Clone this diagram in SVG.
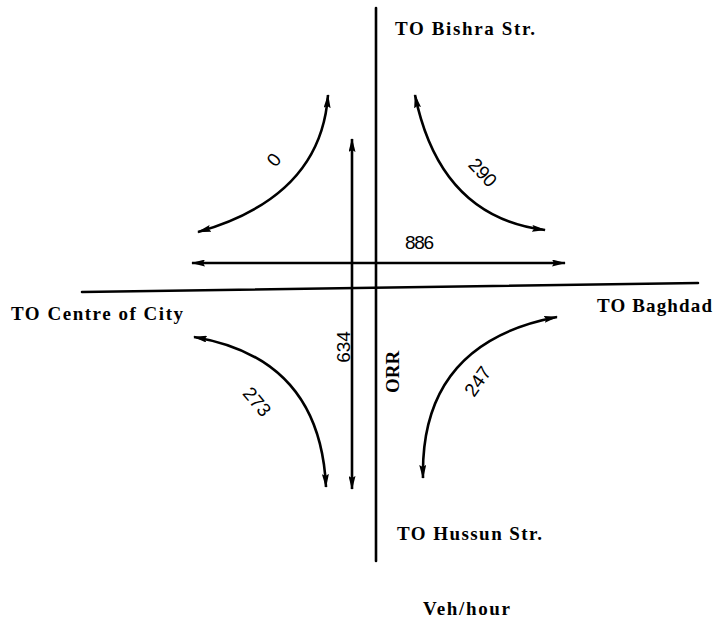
<svg xmlns="http://www.w3.org/2000/svg" width="715" height="622" viewBox="0 0 715 622">
<defs>
<marker id="ah" viewBox="0 0 14 7" refX="13" refY="3.5" markerWidth="14" markerHeight="7" markerUnits="userSpaceOnUse" orient="auto-start-reverse">
<path d="M0,0 L14,3.5 L0,7 L2,3.5 z" fill="#000"/>
</marker>
<style>
.road{stroke:#000;stroke-width:2.6;fill:none;stroke-linecap:round}
.flow{stroke:#000;stroke-width:2.6;fill:none;marker-start:url(#ah);marker-end:url(#ah)}
.place{font-family:"Liberation Serif","Times New Roman",serif;font-weight:bold;font-size:19px;fill:#000}
.num{font-family:"Liberation Sans",Arial,sans-serif;font-size:19px;fill:#000}
</style>
</defs>
<rect width="715" height="622" fill="#fff"/>
<g id="roads">
<line class="road" x1="376" y1="8" x2="376" y2="561"/>
<line class="road" x1="82" y1="292" x2="698" y2="283"/>
</g>
<g id="connectors">
<path id="f886" class="flow" d="M192,263 L565,263"/>
<path id="f634" class="flow" d="M352,139 L352,489"/>
<path id="f0" class="flow" d="M198,232 Q321,197 328,95"/>
<path id="f290" class="flow" d="M415,95 Q440,217 545,230"/>
<path id="f273" class="flow" d="M194,337 Q320,358 326,487"/>
<path id="f247" class="flow" d="M557,317 Q420,343 423,478"/>
</g>
<g id="labels">
<text class="num" x="405" y="249" textLength="29">886</text>
<text class="num" transform="translate(350,347) rotate(-90)" text-anchor="middle">634</text>
<text class="num" transform="translate(279,164) rotate(-50)" text-anchor="middle">0</text>
<text class="num" transform="translate(478,177) rotate(47)" text-anchor="middle">290</text>
<text class="num" transform="translate(252,406) rotate(50)" text-anchor="middle">273</text>
<text class="num" transform="translate(483,385) rotate(-55)" text-anchor="middle">247</text>
</g>
<g id="n-bishra"><text class="place" x="395" y="35" textLength="140">TO  Bishra Str.</text></g>
<g id="n-centre"><text class="place" x="11" y="320" textLength="172">TO Centre of City</text></g>
<g id="n-baghdad"><text class="place" x="597" y="312" textLength="115">TO  Baghdad</text></g>
<g id="n-hussun"><text class="place" x="397" y="540" textLength="145">TO  Hussun Str.</text></g>
<g id="n-orr"><text class="place" transform="translate(399,372) rotate(-90)" text-anchor="middle">ORR</text></g>
<g id="n-unit"><text class="place" x="423" y="615" textLength="87">Veh/hour</text></g>
</svg>
